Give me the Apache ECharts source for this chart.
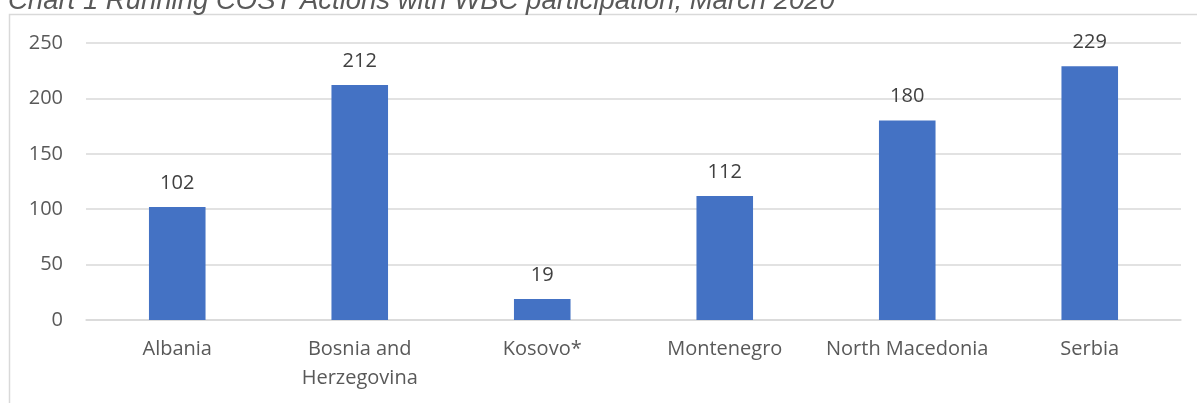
<!DOCTYPE html>
<html><head><meta charset="utf-8">
<script src="https://cdn.jsdelivr.net/npm/echarts@6/dist/echarts.min.js"></script>
<style>html,body{margin:0;padding:0;background:#fff}#c{width:1197px;height:403px}</style>
</head><body><div id="c"></div>
<script>
const categories = ['Albania', 'Bosnia and\nHerzegovina', 'Kosovo*', 'Montenegro', 'North Macedonia', 'Serbia'];
const values = [102, 212, 19, 112, 180, 229];
const yTicks = [0, 50, 100, 150, 200, 250];
const titleText = 'Chart 1 Running COST Actions with WBC participation, March 2020';

const chart = echarts.init(document.getElementById('c'));
chart.setOption({
  animation: false,
  graphic: [
    { type: 'rect', shape: { x: 9.5, y: 14.5, width: 1250, height: 500 }, style: { fill: 'none', stroke: '#d9d9d9', lineWidth: 1.5 }, silent: true },
    { type: 'text', left: 8, top: -12, style: { text: titleText, font: 'italic 27.5px "Liberation Sans", Arial, sans-serif', fill: '#595959' } }
  ],
  grid: { left: 86, right: 16, top: 43, bottom: 83 },
  xAxis: {
    type: 'category', data: categories,
    axisLine: { lineStyle: { color: '#d9d9d9', width: 1.5 } },
    axisTick: { show: false },
    axisLabel: { color: '#595959', fontSize: 20, fontFamily: 'Open Sans', lineHeight: 29, margin: 15, interval: 0 }
  },
  yAxis: {
    type: 'value', min: yTicks[0], max: yTicks[yTicks.length - 1], interval: 50,
    axisLine: { show: false }, axisTick: { show: false },
    splitLine: { lineStyle: { color: '#d9d9d9', width: 1.5 } },
    axisLabel: { color: '#595959', fontSize: 20, fontFamily: 'Open Sans', margin: 23 }
  },
  series: [{
    type: 'bar', data: values, barWidth: '31%',
    itemStyle: { color: '#4472c4' },
    label: { show: true, position: 'top', distance: 14, color: '#404040', fontSize: 20, fontFamily: 'Open Sans' }
  }]
});
</script></body></html>
